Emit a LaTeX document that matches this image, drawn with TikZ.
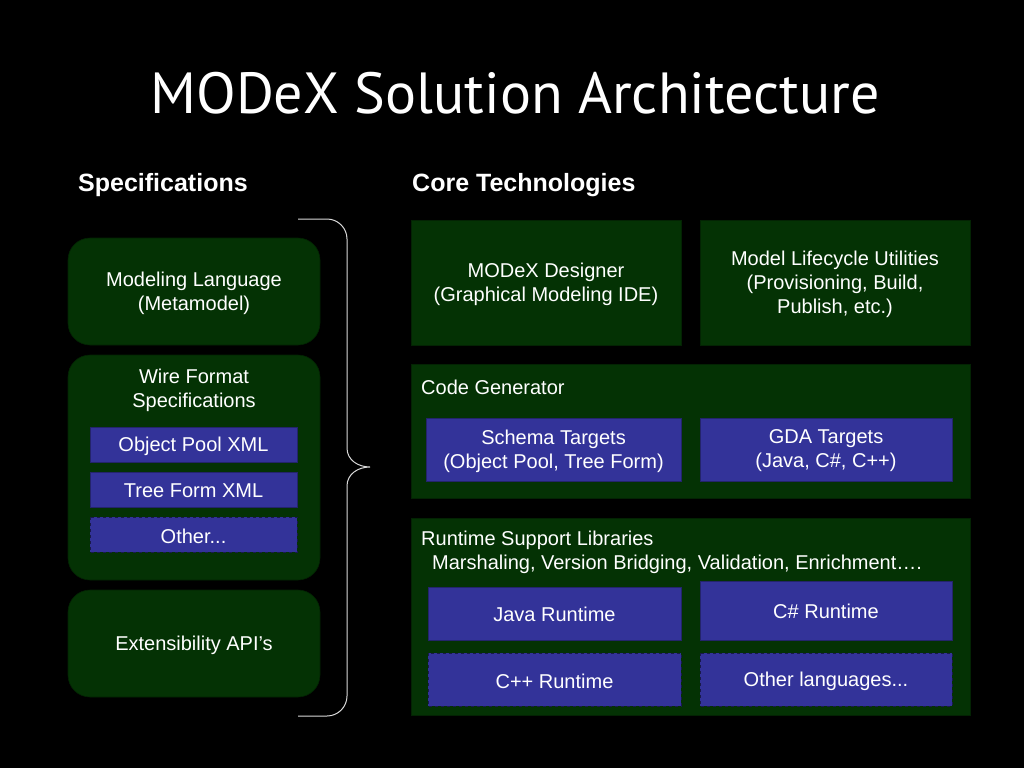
\documentclass[tikz,border=0pt]{standalone}
\usepackage{fontspec}
\setmainfont{Liberation Sans}
\newfontfamily\titlefont{PT Sans}
\begin{document}
\begin{tikzpicture}[x=1pt,y=-1pt,
  greenbox/.style={fill=dkgreen, draw=dkgreen!70!black, line width=0.6pt},
  roundbox/.style={greenbox, rounded corners=22pt},
  bluebox/.style={fill=mblue, draw=mblue!70!black, line width=0.6pt},
  dashbox/.style={fill=mblue, draw=mblue!50!black, dashed, line width=0.8pt},
  txt/.style={text=white, font=\fontsize{20}{24}\selectfont, align=center, inner sep=0pt, yshift=-2pt},
  hdr/.style={text=white, font=\fontsize{25}{28}\selectfont\bfseries, anchor=west, inner sep=0pt, yshift=-2pt},
  brace/.style={draw=white!85!black, line width=1pt}
]
\definecolor{dkgreen}{RGB}{4,50,4}
\definecolor{mblue}{RGB}{51,51,153}
\fill[black] (0,0) rectangle (1024,768);
\useasboundingbox (0,0) rectangle (1024,768);

% title
\node[text=white, font=\titlefont\fontsize{58}{60}\selectfont, inner sep=0pt] (title) at (515,93) {MODeX Solution Architecture};

% headers
\node[hdr] (spec) at (78,183) {Specifications};
\node[hdr] (core) at (412,183) {Core Technologies};

% left column
\draw[roundbox] (68,238) rectangle (320,345);
\node[txt] (ml) at (194,291) {Modeling Language\\(Metamodel)};
\draw[roundbox] (68,355) rectangle (320,580);
\node[txt] (wf) at (194,388) {Wire Format\\Specifications};
\draw[bluebox] (90,427) rectangle (297,462);
\node[txt] (op) at (193.5,444) {Object Pool XML};
\draw[bluebox] (90,472) rectangle (297,507);
\node[txt] (tf) at (193.5,489) {Tree Form XML};
\draw[dashbox] (90,517) rectangle (297,552);
\node[txt] (oth) at (193.5,534) {Other...};
\draw[roundbox] (68,590) rectangle (320,697);
\node[txt] (ext) at (194,643) {Extensibility API’s};

% brace
\coordinate (btop) at (298,219);
\coordinate (bbot) at (298,716);
\coordinate (btip) at (370,467);
\draw[brace] (btop) -- (327,219) .. controls (338,219) and (347,228) .. (347,239) -- (347,448)
  .. controls (347,460) and (358,467) .. (btip)
  .. controls (358,467) and (347,474) .. (347,486)
  -- (347,696) .. controls (347,707) and (338,716) .. (327,716) -- (bbot);

% right column
\draw[greenbox] (411,220) rectangle (681,345);
\node[txt] (des) at (546,282) {MODeX Designer\\(Graphical Modeling IDE)};
\draw[greenbox] (700,220) rectangle (970,345);
\node[txt] (mlu) at (835,282) {Model Lifecycle Utilities\\(Provisioning, Build,\\Publish, etc.)};

\draw[greenbox] (411,364) rectangle (970,498);
\node[txt, anchor=west] (cg) at (421,385) {Code Generator};
\draw[bluebox] (426,418) rectangle (681,481);
\node[txt] (st) at (553.5,449) {Schema Targets\\(Object Pool, Tree Form)};
\draw[bluebox] (700,418) rectangle (952,481);
\node[txt] (gda) at (826,449) {GDA Targets\\(Java, C\#, C++)};

\draw[greenbox] (411,518) rectangle (970,715);
\node[txt, anchor=west] (rsl) at (421,538) {Runtime Support Libraries};
\node[txt, anchor=west] (msh) at (432,562) {Marshaling, Version Bridging, Validation, Enrichment….};
\draw[bluebox] (428,587) rectangle (681,640);
\node[txt] (java) at (554.5,612) {Java Runtime};
\draw[bluebox] (700,581) rectangle (952,640);
\node[txt] (cs) at (826,609) {C\# Runtime};
\draw[dashbox] (428,653) rectangle (681,706);
\node[txt] (cpp) at (554.5,679) {C++ Runtime};
\draw[dashbox] (700,653) rectangle (952,706);
\node[txt] (ol) at (826,679) {Other languages...};
\end{tikzpicture}
\end{document}
